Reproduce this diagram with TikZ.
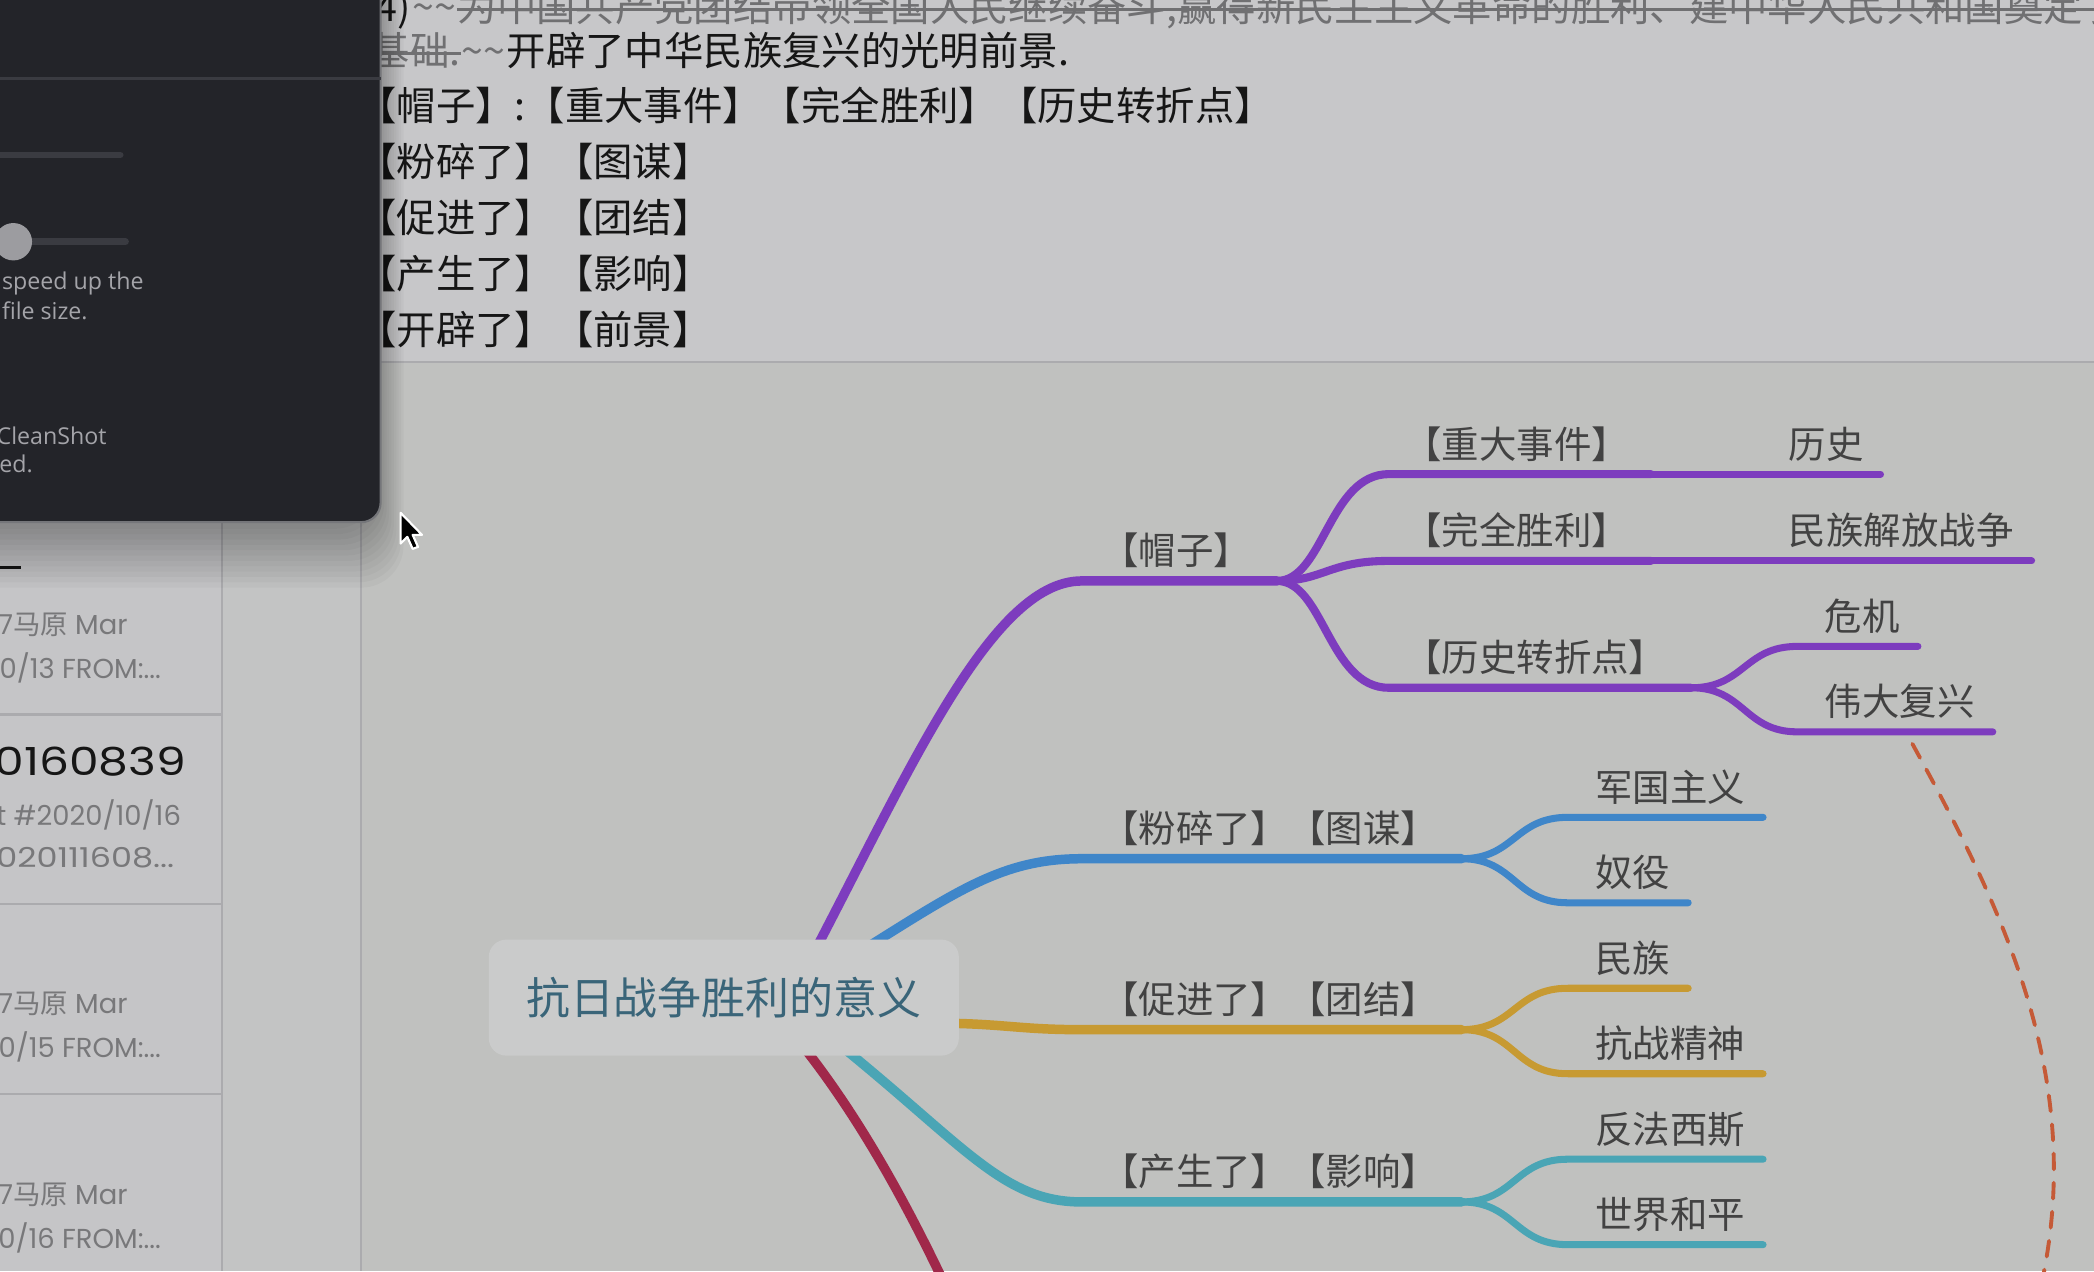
\documentclass[tikz,border=0pt]{standalone}
\usepackage{fontspec}
\setmainfont{Noto Sans CJK SC}
\newfontfamily\cjk{Noto Sans CJK SC}
\newfontfamily\listfont{Poppins}
\newfontfamily\widefont[FakeStretch=1.22]{Poppins}
\newfontfamily\uifont{Open Sans}
\usetikzlibrary{calc}
\pgfdeclarelayer{back}
\pgfdeclarelayer{links}
\pgfsetlayers{back,links,main}

\definecolor{pagebg}{HTML}{C5C5C7}
\definecolor{notebg}{HTML}{C7C7C9}
\definecolor{mapbg}{HTML}{C0C1BF}
\definecolor{colbg}{HTML}{C3C4C4}
\definecolor{rulec}{HTML}{ABABAE}
\definecolor{panel}{HTML}{232429}
\definecolor{panelline}{HTML}{3A3B41}
\definecolor{paneltxt}{HTML}{A4A4A9}
\definecolor{knob}{HTML}{9C9CA0}
\definecolor{ink}{HTML}{161616}
\definecolor{strikec}{HTML}{707072}
\definecolor{listgray}{HTML}{78787A}
\definecolor{lblgray}{HTML}{424242}
\definecolor{rootfill}{HTML}{CACBCB}
\definecolor{rootc}{HTML}{3A6579}
\definecolor{hatc}{HTML}{7D3CBE}
\definecolor{smashc}{HTML}{3F86C9}
\definecolor{unitec}{HTML}{C79A32}
\definecolor{effectc}{HTML}{4AA5B5}
\definecolor{redc}{HTML}{A0284A}
\definecolor{linkc}{HTML}{C55A37}

\begin{document}
\begin{tikzpicture}[x=0.013355cm,y=-0.013355cm,
  branch/.style={line width=2.7pt,line cap=round},
  subbranch/.style={line width=2.3pt,line cap=round},
  leaf/.style={line width=2pt,line cap=round},
  lbl/.style={anchor=base west,inner sep=0pt,text=lblgray,font=\cjk\fontsize{10.65}{13}\selectfont},
  rootbox/.style={fill=rootfill,rounded corners=5pt,minimum width=4.7cm,minimum height=1.16cm,
    inner sep=0pt,text=rootc,font=\cjk\fontsize{12.5}{15}\selectfont},
  toptxt/.style={anchor=base west,inner sep=0pt,text=ink,font=\cjk\fontsize{11.2}{13}\selectfont},
  struck/.style={strikec,line width=0.8pt},
  listinfo/.style={anchor=east,inner sep=0pt,text=listgray,font=\listfont\fontsize{7.8}{9}\selectfont},
  paneltext/.style={anchor=west,inner sep=0pt,text=paneltxt,font=\uifont\fontsize{6.6}{8}\selectfont},
  linkdash/.style={linkc,line width=1.1pt,dash pattern=on 4.5pt off 3.8pt,line cap=round}]

\useasboundingbox (0,0) rectangle (1568,952);

% window background: note pane, map pane, list columns
\begin{pgfonlayer}{back}
  \fill[pagebg] (0,0) rectangle (1568,952);
  \fill[colbg] (166,0) rectangle (270,952);
  \fill[notebg] (270,0) rectangle (1568,271);
  \fill[mapbg] (270,271) rectangle (1568,952);
  \draw[rulec,line width=0.6pt] (166,0) -- (166,952);
  \draw[rulec,line width=0.6pt] (270,0) -- (270,952);
  \draw[rulec,line width=0.8pt] (270,271) -- (1568,271);
  \foreach \y in {535,677,819}
    \draw[rulec,line width=0.6pt] (0,\y) -- (166,\y);
\end{pgfonlayer}

% note list
\draw[ink,line width=0.9pt] (-2,425) -- (16,425);
\foreach \y/\dd/\nm in {468/13/a,752/15/b,895/16/c}{
  \node[listinfo,anchor=west] (head\nm) at (-2,\y) {7{\cjk 马原} Mar};
  \node[listinfo] (date\nm) at (121,\y+32) {0/\dd\ FROM:...};
}
\node[listinfo,text=ink,font=\widefont\fontsize{11}{13}\selectfont] (title) at (140,570) {0160839};
\node[listinfo] (tag) at (136,610) {t \#2020/10/16};
\node[listinfo,font=\widefont\fontsize{7.8}{9}\selectfont] (stamp) at (131,642) {2020111608...};

% note text
\node[toptxt] (t1) at (281,16) {4)};
\node[toptxt,text=strikec] (t1t) at (t1.base east) {\string~\string~};
\node[toptxt,text=strikec] (t1x) at (t1t.base east)
  {为中国共产党团结带领全国人民继续奋斗,赢得新民主主义革命的胜利、建中华人民共和国奠定了};
\draw[struck] ($(t1x.base west)+(0,-9)$) -- ($(t1x.base east)+(0,-9)$);
\node[toptxt,text=strikec] (t2s) at (277,49) {基础.};
\draw[struck] ($(t2s.base west)+(0,-9)$) -- ($(t2s.base east)+(0,-9)$);
\node[toptxt,text=strikec] (t2t) at (t2s.base east) {\string~\string~};
\node[toptxt] (t2) at (t2t.base east) {开辟了中华民族复兴的光明前景.};
\foreach \y/\txt/\nm in {90/{【帽子】:【重大事件】【完全胜利】【历史转折点】}/hat,
    132/{【粉碎了】【图谋】}/smash,174/{【促进了】【团结】}/unite,
    216/{【产生了】【影响】}/effect,258/{【开辟了】【前景】}/open}
  \node[toptxt] (note\nm) at (267,\y) {\txt};

% mind map
\node[rootbox] (root) at (542,747) {抗日战争胜利的意义};
\node[lbl] (hat) at (824,423) {【帽子】};
\node[lbl] (smash) at (824,631) {【粉碎了】【图谋】};
\node[lbl] (unite) at (824,759) {【促进了】【团结】};
\node[lbl] (effect) at (824,888) {【产生了】【影响】};
\node[lbl] (zd) at (1051,343) {【重大事件】};
\node[lbl] (wq) at (1051,408) {【完全胜利】};
\node[lbl] (zz) at (1051,503) {【历史转折点】};
\node[lbl] (ls) at (1339,343) {历史};
\node[lbl] (mj) at (1339,408) {民族解放战争};

\begin{pgfonlayer}{links}
  \draw[branch,hatc] ($(root.center)+(55,-10)$) .. controls +(80,-150) and +(-70,0) .. (810,435)
    -- ($(hat.base east)+(19,12)$) coordinate (j1);
  \draw[branch,smashc] ($(root.center)+(95,-30)$) .. controls +(80,-50) and +(-60,0) .. (810,643)
    -- ($(smash.base east)+(17,12)$) coordinate (j2);
  \draw[branch,unitec] ($(root.center)+(150,19)$) .. controls +(60,0) and +(-50,0) .. (810,771)
    -- ($(unite.base east)+(17,12)$) coordinate (j3);
  \draw[branch,effectc] ($(root.center)+(80,30)$) .. controls +(100,80) and +(-60,0) .. (810,900)
    -- ($(effect.base east)+(17,12)$) coordinate (j4);
  \coordinate (redend) at (725,1000);
  \draw[branch,redc] ($(root.center)+(50,25)$) .. controls +(50,60) and +(-40,-90) .. (redend);

  \draw[subbranch,hatc] (j1) .. controls +(35,0) and +(-45,0) .. (1040,355)
    -- ($(zd.base east)+(16,12)$) coordinate (j1a);
  \draw[subbranch,hatc] (j1) .. controls +(35,0) and +(-45,0) .. (1040,420)
    -- ($(wq.base east)+(16,12)$) coordinate (j1b);
  \draw[subbranch,hatc] (j1) .. controls +(35,0) and +(-45,0) .. (1040,515)
    -- ($(zz.base east)+(18,12)$) coordinate (j1c);
  \draw[leaf,hatc] (j1a) -- ($(ls.base east)+(12,12)$);
  \draw[leaf,hatc] (j1b) -- ($(mj.base east)+(13,12)$);
\end{pgfonlayer}

\foreach \src/\nm/\x/\y/\txt/\col in {
    j1c/wj/1366/484/危机/hatc,
    j1c/wd/1366/548/伟大复兴/hatc,
    j2/jg/1194/612/军国主义/smashc,
    j2/ny/1194/676/奴役/smashc,
    j3/mz/1194/740/民族/unitec,
    j3/kz/1194/804/抗战精神/unitec,
    j4/ff/1194/868/反法西斯/effectc,
    j4/sj/1194/932/世界和平/effectc}{
  \node[lbl] (\nm) at (\x,\y-12) {\txt};
  \begin{pgfonlayer}{links}
    \draw[leaf,\col] (\src) .. controls +(40,0) and +(-40,0) .. (\x-20,\y)
      -- ($(\nm.base east)+(13,12)$);
  \end{pgfonlayer}
}

% relation line from 伟大复兴 running off the canvas
\coordinate (linkend) at (1530,955);
\draw[linkdash] ($(wd.base west)+(66,21)$) .. controls +(68,124) and +(30,-150) .. (linkend);

% capture panel with its soft shadow
\foreach \s in {3,7,...,47}
  \fill[black,opacity=0.028,rounded corners=12pt] (-80,-80) rectangle ({281+0.45*\s},{393+\s});
\fill[panel,rounded corners=5.5pt] (-30,-30) rectangle (285,391);
\draw[panelline!70!white,line width=0.6pt,rounded corners=5.5pt] (-30,-30) rectangle (285,391);
\draw[panelline,line width=0.8pt] (-5,59) -- (285,59);
\draw[panelline,line width=1.9pt,line cap=round] (-5,116) -- (90,116);
\draw[panelline,line width=1.9pt,line cap=round] (-5,181) -- (94,181);
\fill[knob] (10,181) circle (14);
\node[paneltext] (sp1) at (1,212) {speed up the};
\node[paneltext] (sp2) at (1,233) {file size.};
\node[paneltext] (cs1) at (-3,326) {CleanShot};
\node[paneltext] (cs2) at (-1,347) {ed.};

% mouse pointer
\filldraw[fill=black,draw=white,line width=0.6pt,line join=round]
  (300,384) -- (300,407) -- (305,402) -- (309,411) -- (313,409.5) -- (309,400.5) -- (316,400.5) -- cycle;

\end{tikzpicture}
\end{document}
